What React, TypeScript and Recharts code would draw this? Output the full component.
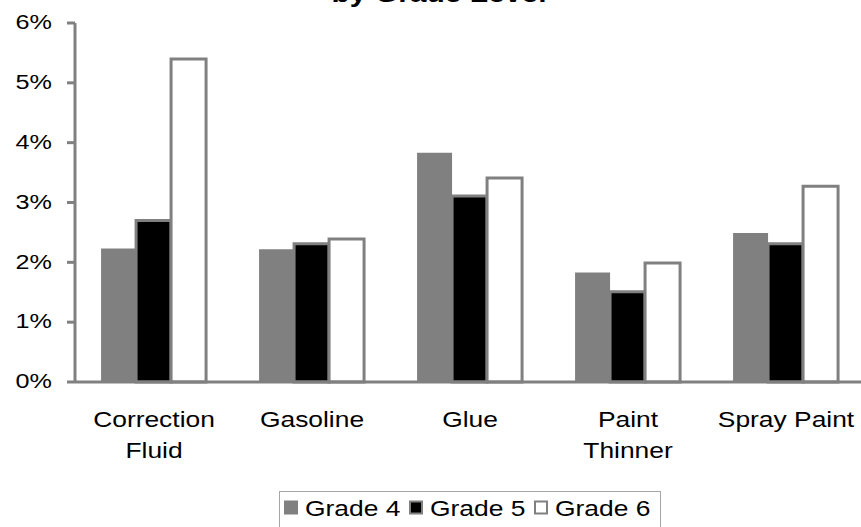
import { Bar, BarChart, Legend, XAxis, YAxis } from "recharts";

const categories = [
  "Correction Fluid",
  "Gasoline",
  "Glue",
  "Paint Thinner",
  "Spray Paint",
];
const grade4 = [2.23, 2.22, 3.83, 1.83, 2.49];
const grade5 = [2.7, 2.31, 3.11, 1.51, 2.31];
const grade6 = [5.4, 2.39, 3.41, 1.99, 3.27];
const seriesNames = ["Grade 4", "Grade 5", "Grade 6"];
const seriesFills = ["#808080", "#000000", "#ffffff"];
const yTicks = [0, 1, 2, 3, 4, 5, 6];
const edgeTicks = [0, 1, 2, 3, 4, 5];

const data = categories.map((name, i) => ({
  name,
  g4: grade4[i],
  g5: grade5[i],
  g6: grade6[i],
}));

const FONT = '"Liberation Sans", Arial, sans-serif';
const STRETCH = 1.2;
const AXIS_GRAY = "#808080";

function YTick({ x, y, payload }: any) {
  return (
    <text
      transform={`translate(${x},${y}) scale(${STRETCH},1)`}
      textAnchor="end"
      dy="0.3em"
      fontSize={21}
      fontFamily={FONT}
      fill="#000"
    >
      {`${payload.value}%`}
    </text>
  );
}

function CategoryTick({ x, y, payload }: any) {
  const label: string = payload.value;
  const lines = label.length > 12 ? label.split(" ") : [label];
  return (
    <text
      transform={`translate(${x},${y}) scale(${STRETCH},1)`}
      textAnchor="middle"
      fontSize={22}
      fontFamily={FONT}
      fill="#000"
    >
      {lines.map((line, i) => (
        <tspan key={line} x={0} dy={i === 0 ? 45 : 31}>
          {line}
        </tspan>
      ))}
    </text>
  );
}

// tick marks between categories, crossing the axis line
function EdgeTick({ x, y }: any) {
  return (
    <line x1={x} x2={x} y1={y - 10} y2={y + 10} stroke={AXIS_GRAY} strokeWidth={3} />
  );
}

function LegendBox() {
  return (
    <div style={{ height: 36 }}>
      <svg width={382} height={36} style={{ display: "block", overflow: "visible" }}>
        <rect x={0.5} y={0.5} width={381} height={44} fill="#fff" stroke="#a6a6a6" />
        {seriesNames.map((name, i) => {
          const x0 = 5 + i * 125;
          return (
            <g key={name}>
              <rect
                x={x0 + 1}
                y={10.5}
                width={12}
                height={12}
                fill={seriesFills[i]}
                stroke={AXIS_GRAY}
                strokeWidth={2}
              />
              <text
                transform={`translate(${x0 + 21},25) scale(${STRETCH},1)`}
                fontSize={22}
                fontFamily={FONT}
                fill="#000"
              >
                {name}
              </text>
            </g>
          );
        })}
      </svg>
    </div>
  );
}

export default function App() {
  return (
    <div
      style={{
        position: "absolute",
        left: 0,
        top: 0,
        width: 861,
        height: 527,
        overflow: "hidden",
        background: "#fff",
      }}
    >
      <BarChart
        width={940}
        height={527}
        data={data}
        margin={{ top: 23, right: 75, bottom: 0, left: 0 }}
        barCategoryGap="16.5%"
        barGap={0}
      >
        <text
          transform={`translate(439,2) scale(${STRETCH},1)`}
          textAnchor="middle"
          fontSize={25}
          fontWeight="bold"
          fontFamily={FONT}
          fill="#000"
        >
          by Grade Level
        </text>
        <XAxis
          xAxisId="edges"
          type="number"
          domain={[0, 5]}
          ticks={edgeTicks}
          axisLine={false}
          tickLine={false}
          tickSize={0}
          tickMargin={0}
          height={0}
          tick={<EdgeTick />}
          interval={0}
        />
        <XAxis
          xAxisId="cat"
          dataKey="name"
          height={109}
          interval={0}
          tickLine={false}
          tickSize={0}
          tickMargin={0}
          axisLine={{ stroke: AXIS_GRAY, strokeWidth: 3 }}
          tick={<CategoryTick />}
        />
        <YAxis
          width={75}
          domain={[0, 6]}
          ticks={yTicks}
          interval={0}
          tickSize={8}
          tickMargin={15}
          axisLine={{ stroke: AXIS_GRAY, strokeWidth: 3 }}
          tickLine={{ stroke: AXIS_GRAY, strokeWidth: 3 }}
          tick={<YTick />}
        />
        <Legend
          verticalAlign="bottom"
          align="center"
          wrapperStyle={{ left: 279, width: 382 }}
          content={<LegendBox />}
        />
        <Bar
          xAxisId="cat"
          dataKey="g4"
          name={seriesNames[0]}
          fill={seriesFills[0]}
          isAnimationActive={false}
        />
        <Bar
          xAxisId="cat"
          dataKey="g5"
          name={seriesNames[1]}
          fill={seriesFills[1]}
          stroke={AXIS_GRAY}
          strokeWidth={3}
          isAnimationActive={false}
        />
        <Bar
          xAxisId="cat"
          dataKey="g6"
          name={seriesNames[2]}
          fill={seriesFills[2]}
          stroke={AXIS_GRAY}
          strokeWidth={3}
          isAnimationActive={false}
        />
      </BarChart>
    </div>
  );
}
